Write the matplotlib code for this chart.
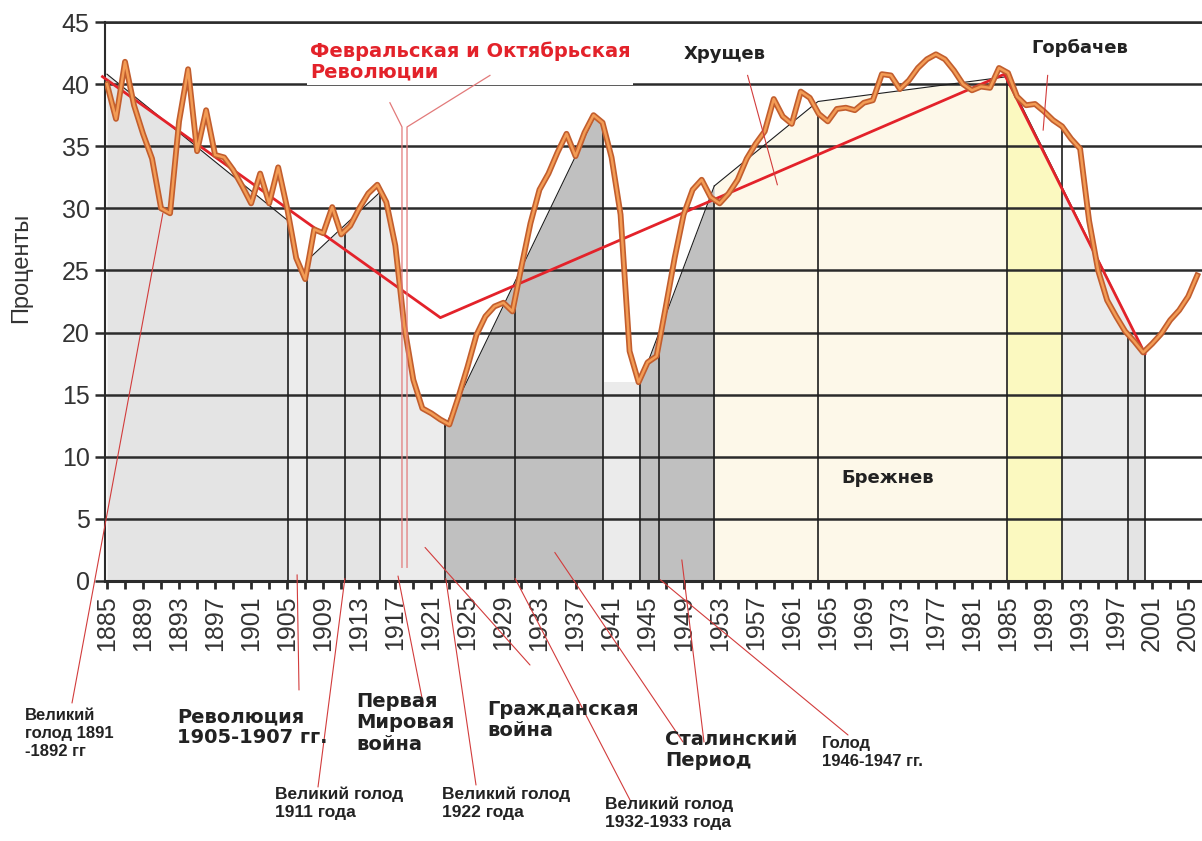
import matplotlib.pyplot as plt
import numpy as np

W, H = 1202, 841

# доля (%) по годам
years = list(range(1885, 2007))
share = [40.0, 37.2, 41.8, 38.3, 36.0, 34.0, 30.0, 29.6, 37.0, 41.2,
         34.6, 37.9, 34.3, 34.1, 33.1, 31.8, 30.4, 32.8, 30.4, 33.3,
         30.0, 26.0, 24.3, 28.3, 28.0, 30.1, 27.9, 28.6, 30.0, 31.2,
         31.9, 30.5, 27.0, 20.5, 16.2, 13.9, 13.5, 13.0, 12.6, 14.8,
         17.2, 19.8, 21.3, 22.1, 22.4, 21.7, 25.3, 28.8, 31.5, 32.8,
         34.5, 36.0, 34.2, 36.1, 37.5, 36.9, 34.1, 29.5, 18.5, 16.0,
         17.6, 18.1, 22.0, 26.0, 29.5, 31.5, 32.3, 30.9, 30.4, 31.2,
         32.3, 34.0, 35.2, 36.2, 38.8, 37.4, 36.8, 39.4, 38.9, 37.6,
         37.0, 38.0, 38.1, 37.9, 38.5, 38.7, 40.8, 40.7, 39.6, 40.3,
         41.3, 42.0, 42.4, 42.0, 41.1, 40.0, 39.5, 39.8, 39.7, 41.3,
         40.9, 39.0, 38.3, 38.4, 37.8, 37.1, 36.6, 35.6, 34.8, 29.0,
         25.0, 22.6, 21.3, 20.1, 19.3, 18.4, 19.1, 19.9, 21.0, 21.8,
         22.9, 24.6]

# тонкая чёрная линия тренда (верх заливок)
trend_x = [1885.0, 1905.1, 1907.2, 1915.3, 1922.5, 1939.2, 1940.05,
           1944.2, 1952.4, 1963.9, 1984.9, 2000.2]
trend_y = [40.8, 29.0, 25.8, 31.3, 12.4, 37.5, 36.9,
           16.0, 31.8, 38.6, 40.6, 18.3]

# красная ломаная
red_x = [1884.5, 1922.0, 1984.6, 2000.2]
red_y = [40.6, 21.2, 40.8, 18.3]

band_start = [1885.0, 1905.1, 1907.2, 1915.3, 1922.5, 1940.05, 1944.2, 1952.4, 1984.9, 1991.0, 1998.3]
band_end = [1905.1, 1907.2, 1915.3, 1922.5, 1940.05, 1944.2, 1952.4, 1984.9, 1991.0, 1998.3, 2000.2]
band_colors = ['#e4e4e4', '#ececec', '#e4e4e4', '#ececec', '#c0c0c0', '#ebebeb',
               '#c0c0c0', '#fdf8e9', '#fbf9c0', '#ebebeb', '#e4e4e4']
band_top = ['trend', 'curve', 'trend', 'curve', 'trend', 16.0,
            'trend', 'trend', 'trend', 'trend', 'trend']

vline_years = [1905.1, 1907.2, 1911.4, 1915.3, 1922.5, 1930.3, 1940.05, 1944.2,
               1946.3, 1952.4, 1963.9, 1984.9, 1991.0, 1998.3, 2000.2]

tick_years = list(range(1885, 2007, 2))
label_years = list(range(1885, 2006, 4))
y_ticks = list(range(0, 46, 5))

plt.rcParams['font.family'] = 'Liberation Sans'

fig = plt.figure(figsize=(W / 100, H / 100), dpi=100)
ax = fig.add_axes([105 / W, 1 - 581 / H, 1097 / W, 559 / H])


def fig_xy(x, y):
    return x / W, 1 - y / H


yr = np.array(years, float)
val = np.array(share)

for s, e, c, top in zip(band_start, band_end, band_colors, band_top):
    xs = np.linspace(s, e, 80)
    if top == 'trend':
        ys = np.interp(xs, trend_x, trend_y)
    elif top == 'curve':
        ys = np.interp(xs, yr, val)
    else:
        ys = np.minimum(np.interp(xs, yr, val), top)
    ax.fill_between(xs, 0, ys, color=c, lw=0, zorder=1)
    if top == 'trend':
        ax.plot(xs, ys, color='#1e1e1e', lw=0.8, zorder=3)

ax.vlines(vline_years, 0, np.interp(vline_years, yr, val), color='#1e1e1e', lw=1.2, zorder=2)

ax.plot(red_x, red_y, color='#e3222a', lw=2.0, zorder=4, clip_on=False)
ax.plot(yr, val, color='#c25e2e', lw=4.2, zorder=5, solid_joinstyle='round')
ax.plot(yr, val, color='#f39c55', lw=1.8, zorder=6, solid_joinstyle='round')

ax.set_xlim(1884.78, 2006.53)
ax.set_ylim(0, 45)
ax.set_yticks(y_ticks)
ax.set_xticks(tick_years)
ax.set_xticklabels([str(y) if y in label_years else '' for y in tick_years])
ax.grid(axis='y', color='#2b2b2b', lw=1.8)
ax.grid(axis='x', visible=False)
ax.set_axisbelow('line')

ax.tick_params(axis='y', length=7, width=1.8, color='#2b2b2b', labelsize=18, labelcolor='#333333', pad=4)
ax.tick_params(axis='x', length=6, width=2, color='#2b2b2b', labelsize=18, labelcolor='#333333',
               pad=4, labelrotation=90)
ax.spines['right'].set_visible(False)
ax.spines['left'].set_linewidth(1.5)
ax.spines['bottom'].set_linewidth(2.2)
ax.spines['top'].set_linewidth(1.8)
for sp in ('left', 'bottom', 'top'):
    ax.spines[sp].set_color('#2b2b2b')

ax.set_ylabel('Проценты', fontsize=17, color='#333333')
ax.yaxis.set_label_coords(-0.0665, 0.56)

bold_wide = dict(fontweight='bold', family='DejaVu Sans', color='#222222')
bold_narrow = dict(fontweight='bold', family='Liberation Sans', color='#222222')

# надписи внутри поля графика
ax.text(1907.53, 43.4, 'Февральская и Октябрьская\nРеволюции', color='#e3222a', fontsize=14,
        fontweight='bold', family='DejaVu Sans', ha='left', va='top', linespacing=1.1,
        zorder=6.5, bbox=dict(facecolor='white', edgecolor='none', pad=2))
ax.plot([1916.4, 1917.74, 1917.74], [38.5, 36.55, 1.1], color='#e27a7a', lw=0.9, zorder=7)
ax.plot([1927.5, 1918.3, 1918.3], [40.7, 36.55, 1.1], color='#e27a7a', lw=0.9, zorder=7)

ax.text(1953.6, 42.4, 'Хрущев', ha='center', va='center', fontsize=13, **bold_wide)
ax.plot([1956.1, 1959.4], [40.7, 31.9], color='#d23c3c', lw=0.8, zorder=7)
ax.text(1993.0, 42.9, 'Горбачев', ha='center', va='center', fontsize=13, **bold_wide)
ax.plot([1989.4, 1988.9], [40.7, 36.3], color='#d23c3c', lw=0.8, zorder=7)
ax.text(1971.6, 8.3, 'Брежнев', ha='center', va='center', fontsize=13, **bold_wide)

# подписи событий под осью
fig.text(*fig_xy(25, 708), 'Великий\nголод 1891\n-1892 гг', fontsize=12, va='top', linespacing=1.25, **bold_narrow)
fig.text(*fig_xy(177, 707), 'Революция\n1905-1907 гг.', fontsize=14, va='top', linespacing=1.15, **bold_wide)
fig.text(*fig_xy(356, 692), 'Первая\nМировая\nвойна', fontsize=14, va='top', linespacing=1.15, **bold_wide)
fig.text(*fig_xy(487, 700), 'Гражданская\nвойна', fontsize=14, va='top', linespacing=1.15, **bold_wide)
fig.text(*fig_xy(665, 730), 'Сталинский\nПериод', fontsize=14, va='top', linespacing=1.15, **bold_wide)
fig.text(*fig_xy(822, 736), 'Голод\n1946-1947 гг.', fontsize=12, va='top', linespacing=1.25, **bold_narrow)
fig.text(*fig_xy(275, 787), 'Великий голод\n1911 года', fontsize=12.5, va='top', linespacing=1.25, **bold_narrow)
fig.text(*fig_xy(442, 786), 'Великий голод\n1922 года', fontsize=12.5, va='top', linespacing=1.25, **bold_narrow)
fig.text(*fig_xy(605, 797), 'Великий голод\n1932-1933 года', fontsize=12.5, va='top', linespacing=1.25, **bold_narrow)

lead_xy = [(1891.2, 29.6), (1906.1, 0.5), (1917.3, 0.4), (1920.3, 2.7), (1911.4, 0.2),
           (1922.6, 0.2), (1934.7, 2.3), (1948.8, 1.7), (1930.3, 0.2), (1946.4, 0.1)]
lead_end = [(72, 703), (299, 690), (423, 703), (530, 665), (318, 787),
            (476, 785), (683, 742), (704, 742), (630, 800), (848, 735)]
for p, q in zip(lead_xy, lead_end):
    ax.annotate('', xy=p, xytext=fig_xy(*q), textcoords='figure fraction', annotation_clip=False,
                arrowprops=dict(arrowstyle='-', color='#d23c3c', lw=0.8, shrinkA=0, shrinkB=0), zorder=7)

fig.savefig('out.png', dpi=100)
